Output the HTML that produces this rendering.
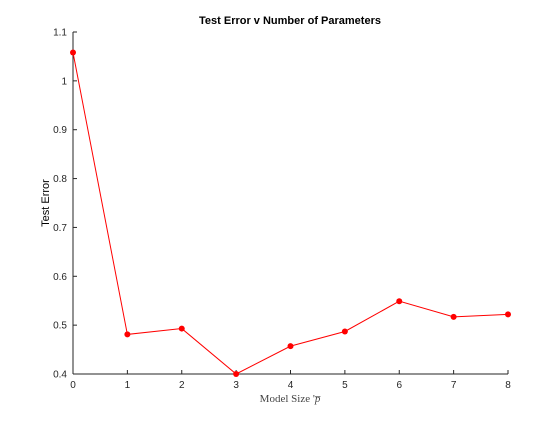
<!DOCTYPE html>
<html><head><meta charset="utf-8"><style>
body{margin:0;background:#fff;}
svg text{font-family:"Liberation Sans",sans-serif;font-size:10px;fill:#262626;}
</style></head><body>
<svg id="chart" width="560" height="420" xmlns="http://www.w3.org/2000/svg">
<rect width="560" height="420" fill="#fff"/>
<text x="290" y="24" text-anchor="middle" style="font-weight:bold;font-size:11px;fill:#000">Test Error v Number of Parameters</text>
<g id="axes"></g>
<text x="290" y="402" text-anchor="middle" style="font-family:'Liberation Serif',serif;font-size:11px;fill:#444">Model Size '<tspan font-style="italic">p̅</tspan></text>
<text transform="translate(49,203) rotate(-90)" text-anchor="middle" style="font-size:11px;fill:#000">Test Error</text>
<g id="series"></g>
</svg>
<script>
const categories=[0,1,2,3,4,5,6,7,8];
const testError=[1.058,0.481,0.493,0.400,0.457,0.487,0.549,0.517,0.522];
const yTicks=[0.4,0.5,0.6,0.7,0.8,0.9,1,1.1];
const xTicks=[0,1,2,3,4,5,6,7,8];
const X0=73,X1=508,Y0=374,Y1=32;
const xs=v=>X0+(v-0)/(8-0)*(X1-X0);
const ys=v=>Y0-(v-0.4)/(1.1-0.4)*(Y0-Y1);
const NS="http://www.w3.org/2000/svg";
const ax=document.getElementById('axes');
function mk(t,a,p){const e=document.createElementNS(NS,t);for(const k in a)e.setAttribute(k,a[k]);p.appendChild(e);return e;}
let l=mk('line',{x1:X0,y1:Y0,x2:X1,y2:Y0,stroke:'#262626','stroke-width':1},ax);


l=mk('line',{x1:X0,y1:Y0,x2:X0,y2:Y1,stroke:'#262626','stroke-width':1},ax);


xTicks.forEach(v=>{const x=xs(v);
 const t=mk('line',{x1:x,y1:Y0,x2:x,y2:Y0-4,stroke:'#262626'},ax);
 
 
 const s=mk('text',{x:x,y:Y0+14,'text-anchor':'middle'},ax);s.textContent=v;
 
 
});
yTicks.forEach(v=>{const y=ys(v);
 const t=mk('line',{x1:X0,y1:y,x2:X0+4,y2:y,stroke:'#262626'},ax);
 
 
 const s=mk('text',{x:X0-6,y:y+3.5,'text-anchor':'end'},ax);s.textContent=v;
 
 
});
const sg=document.getElementById('series');
const pl=mk('polyline',{points:categories.map((c,i)=>xs(c)+','+ys(testError[i])).join(' '),fill:'none',stroke:'#f00','stroke-width':1},sg);


categories.forEach((c,i)=>{
 const p=mk('circle',{cx:xs(c),cy:ys(testError[i]),r:3,fill:'#f00'},sg);
 
 
});
</script>
</body></html>
